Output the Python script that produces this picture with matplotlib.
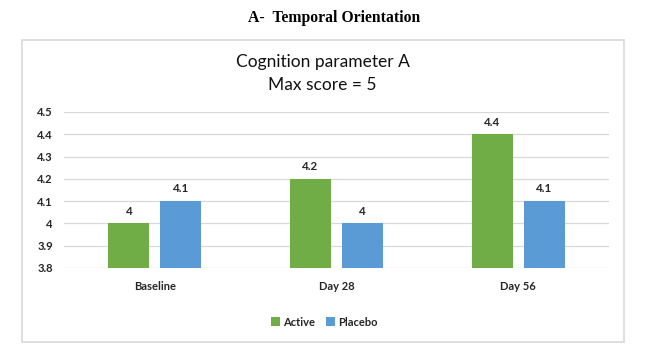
import matplotlib.pyplot as plt
from matplotlib.patches import Rectangle
import numpy as np

categories = ['Baseline', 'Day 28', 'Day 56']
active = [4.0, 4.2, 4.4]
placebo = [4.1, 4.0, 4.1]
active_labels = ['4', '4.2', '4.4']
placebo_labels = ['4.1', '4', '4.1']
yticks = [3.8, 3.9, 4.0, 4.1, 4.2, 4.3, 4.4, 4.5]
ytick_labels = ['3.8', '3.9', '4', '4.1', '4.2', '4.3', '4.4', '4.5']

GREEN = '#70AD47'
BLUE = '#5B9BD5'
TXT = '#262626'

plt.rcParams['font.family'] = ['Lato', 'DejaVu Sans']

fig = plt.figure(figsize=(6.49, 3.63), dpi=100)
fig.patches.append(Rectangle((22 / 649, 1 - 342 / 363), (624 - 22) / 649, 302 / 363,
                             transform=fig.transFigure, fill=False,
                             edgecolor='#d9d9d9', linewidth=1.2))
fig.text(0.515, 1 - 18 / 363, 'A-  Temporal Orientation', ha='center', va='center',
         family='Liberation Serif', fontweight='bold', fontsize=11.3)
fig.text(0.497, 1 - 62 / 363, 'Cognition parameter A', ha='center', va='center',
         fontsize=12.5, color='#111111')
fig.text(0.497, 1 - 85 / 363, 'Max score = 5', ha='center', va='center',
         fontsize=12.5, color='#111111')

ax = fig.add_axes([64 / 649, 1 - 268 / 363, 545 / 649, 156 / 363])
x = np.arange(len(categories))
w = 41 / 181.5
gap = 11 / 181.5
b1 = ax.bar(x - (w + gap) / 2, [a - 3.8 for a in active], w, bottom=3.8,
            color=GREEN, label='Active')
b2 = ax.bar(x + (w + gap) / 2, [p - 3.8 for p in placebo], w, bottom=3.8,
            color=BLUE, label='Placebo')
for rect, lab in zip(b1, active_labels):
    ax.text(rect.get_x() + rect.get_width() / 2, rect.get_y() + rect.get_height() + 0.03,
            lab, ha='center', va='bottom', fontsize=8.3, fontweight='bold', color=TXT)
for rect, lab in zip(b2, placebo_labels):
    ax.text(rect.get_x() + rect.get_width() / 2, rect.get_y() + rect.get_height() + 0.03,
            lab, ha='center', va='bottom', fontsize=8.3, fontweight='bold', color=TXT)

ax.set_xlim(-0.5, 2.5)
ax.set_ylim(3.8, 4.5)
ax.set_yticks(yticks)
ax.set_yticklabels(ytick_labels, fontweight='bold', fontsize=8, color=TXT)
ax.set_xticks(x)
ax.set_xticklabels(categories, fontsize=8, fontweight='bold', color=TXT)
ax.tick_params(axis='y', length=0, pad=8)
ax.tick_params(axis='x', length=0, pad=9)
ax.grid(axis='y', color='#d9d9d9', linewidth=0.9)
ax.set_axisbelow(True)
for s in ax.spines.values():
    s.set_visible(False)

fig.legend(loc='center', bbox_to_anchor=(0.5, 1 - 322 / 363), ncol=2, frameon=False,
           prop={'size': 8, 'weight': 'bold'}, handlelength=0.8, handleheight=0.8,
           handletextpad=0.3, columnspacing=1.0, labelcolor=TXT)

plt.savefig('out.png', dpi=100)
